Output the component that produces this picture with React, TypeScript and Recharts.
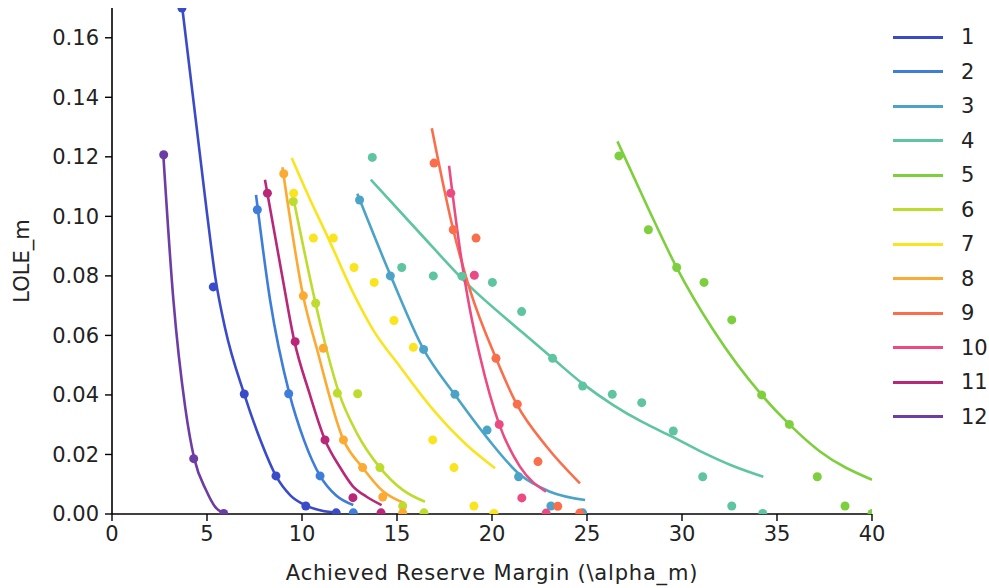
import React from "react";
import { ComposedChart, Line, Scatter, XAxis, YAxis, Label } from "recharts";

type Pt = [number, number];

const xTicks = [0, 5, 10, 15, 20, 25, 30, 35, 40];
const yTicks = [0, 0.02, 0.04, 0.06, 0.08, 0.1, 0.12, 0.14, 0.16];
const seriesNames = ["1", "2", "3", "4", "5", "6", "7", "8", "9", "10", "11", "12"];
const colors = [
  "#3a4bc9", "#3e7dd9", "#4ca3c8", "#5fc4a0", "#7dcf3e", "#bedc2d",
  "#fae41e", "#fcaa32", "#fa6e4b", "#eb4b82", "#b92878", "#6e3ca5"
];

// scatter points (reserve margin, LOLE)
const dots1: Pt[] = [[3.68, 0.17], [5.33, 0.0763], [6.96, 0.0403], [8.63, 0.0128], [10.2, 0.0027], [11.8, 0.0004]];
const dots2: Pt[] = [[7.65, 0.1022], [9.3, 0.0404], [10.95, 0.0128], [12.7, 0.0004]];
const dots3: Pt[] = [[13.03, 0.1055], [14.65, 0.08], [16.4, 0.0553], [18.05, 0.0402], [19.74, 0.0282], [21.4, 0.0125], [23.1, 0.0027], [24.77, 0.0004]];
const dots4: Pt[] = [[13.7, 0.1198], [15.25, 0.0828], [16.91, 0.08], [18.42, 0.0799], [20.02, 0.0778], [21.56, 0.068], [23.19, 0.0523], [24.77, 0.043], [26.33, 0.0402], [27.88, 0.0374], [29.54, 0.0279], [31.09, 0.0125], [32.62, 0.0027], [34.25, 0.0002]];
const dots5: Pt[] = [[26.68, 0.1203], [28.23, 0.0955], [29.72, 0.0828], [31.16, 0.0778], [32.62, 0.0652], [34.19, 0.04], [35.65, 0.0301], [37.12, 0.0125], [38.58, 0.0027], [40.0, 0.0002]];
const dots6: Pt[] = [[9.54, 0.105], [10.72, 0.0708], [11.86, 0.0406], [12.93, 0.0404], [14.1, 0.0156], [15.3, 0.0027], [16.42, 0.0004]];
const dots7: Pt[] = [[9.56, 0.1078], [10.6, 0.0927], [11.65, 0.0927], [12.74, 0.0828], [13.8, 0.0778], [14.84, 0.065], [15.86, 0.056], [16.88, 0.0249], [18.0, 0.0156], [19.05, 0.0027], [20.1, 0.0002]];
const dots8: Pt[] = [[9.04, 0.1143], [10.07, 0.0733], [11.12, 0.0557], [12.18, 0.0249], [13.19, 0.0156], [14.25, 0.0057], [15.3, 0.0004]];
const dots9: Pt[] = [[16.95, 0.1179], [17.96, 0.0955], [19.16, 0.0927], [20.21, 0.0523], [21.33, 0.0369], [22.42, 0.0176], [23.46, 0.0026], [24.62, 0.0003]];
const dots10: Pt[] = [[17.83, 0.1078], [19.07, 0.0802], [20.38, 0.0301], [21.57, 0.0054], [22.85, 0.0003]];
const dots11: Pt[] = [[8.18, 0.1078], [9.64, 0.0579], [11.21, 0.0249], [12.68, 0.0055], [14.16, 0.0004]];
const dots12: Pt[] = [[2.72, 0.1207], [4.3, 0.0186], [5.88, 0.0002]];

// fitted curves
const fit1: Pt[] = [[3.7, 0.17], [5.0, 0.101], [5.45, 0.079], [5.95, 0.0625], [6.96, 0.0403], [7.8, 0.025], [8.63, 0.0128], [9.4, 0.0062], [10.16, 0.003], [11.0, 0.0012], [11.95, 0.0004]];
const fit2: Pt[] = [[7.58, 0.1072], [8.32, 0.0719], [9.33, 0.0406], [10.1, 0.0249], [10.95, 0.0128], [11.8, 0.0062], [12.7, 0.003]];
const fit3: Pt[] = [[12.91, 0.1076], [14.67, 0.08], [16.4, 0.0553], [18.03, 0.0402], [19.77, 0.0254], [21.42, 0.0135], [23.05, 0.0075], [24.9, 0.0047]];
const fit4: Pt[] = [[13.62, 0.1123], [16.04, 0.0955], [18.67, 0.0775], [21.56, 0.0612], [23.19, 0.0523], [24.77, 0.0438], [26.38, 0.0366], [27.88, 0.031], [29.54, 0.0258], [31.09, 0.0207], [32.62, 0.0163], [34.28, 0.0125]];
const fit5: Pt[] = [[26.6, 0.1252], [28.2, 0.103], [29.72, 0.0828], [31.65, 0.0618], [34.19, 0.04], [35.65, 0.0301], [37.26, 0.021], [40.0, 0.0115]];
const fit6: Pt[] = [[9.5, 0.1075], [10.72, 0.0706], [11.3, 0.0551], [11.95, 0.0406], [12.9, 0.027], [14.1, 0.0156], [15.3, 0.0081], [16.47, 0.0041]];
const fit7: Pt[] = [[9.46, 0.1196], [10.4, 0.106], [11.38, 0.0927], [12.7, 0.0742], [13.75, 0.0618], [15.16, 0.0495], [16.91, 0.035], [18.67, 0.0232], [20.16, 0.0154]];
const fit8: Pt[] = [[8.97, 0.1165], [10.07, 0.073], [10.8, 0.0551], [12.18, 0.0249], [13.19, 0.0156], [14.25, 0.0077], [15.4, 0.0036]];
const fit9: Pt[] = [[16.83, 0.1296], [17.96, 0.0955], [18.84, 0.0753], [20.21, 0.0523], [21.3, 0.0369], [22.88, 0.0226], [24.63, 0.0103]];
const fit10: Pt[] = [[17.74, 0.117], [18.3, 0.0895], [18.84, 0.0686], [19.37, 0.0529], [20.38, 0.0301], [21.47, 0.0159], [22.84, 0.0075]];
const fit11: Pt[] = [[8.05, 0.1123], [8.93, 0.081], [9.6, 0.058], [10.37, 0.041], [11.21, 0.0249], [12.0, 0.0157], [12.67, 0.0094], [13.4, 0.0058], [14.19, 0.003]];
const fit12: Pt[] = [[2.7, 0.1207], [3.23, 0.072], [3.85, 0.036], [4.33, 0.0186], [4.96, 0.0079], [5.44, 0.0023], [5.9, 0.0002]];

const allDots = [dots1, dots2, dots3, dots4, dots5, dots6, dots7, dots8, dots9, dots10, dots11, dots12];
const allFits = [fit1, fit2, fit3, fit4, fit5, fit6, fit7, fit8, fit9, fit10, fit11, fit12];

const toRows = (pts: Pt[]) => pts.map(([x, y]) => ({ x, y }));

const series = seriesNames.map((name, i) => ({
  name,
  color: colors[i],
  dots: toRows(allDots[i]),
  fit: toRows(allFits[i])
}));

const FONT = "DejaVu Sans, sans-serif";
const W = 989;
const H = 588;

const ChartLegend = () => (
  <div style={{ position: "absolute", left: 0, top: 0, pointerEvents: "none" }}>
    {series.map((s, i) => (
      <div
        key={s.name}
        style={{
          position: "absolute",
          left: 893,
          top: 37 + i * 34.5 - 12,
          height: 24,
          display: "flex",
          alignItems: "center",
          whiteSpace: "nowrap"
        }}
      >
        <span style={{ display: "inline-block", width: 50, height: 3, background: s.color }} />
        <span style={{ marginLeft: 18, fontFamily: FONT, fontSize: 21, color: "#222" }}>{s.name}</span>
      </div>
    ))}
  </div>
);

const App: React.FC = () => {
  return (
    <div style={{ position: "absolute", left: 0, top: 0, width: W, height: H, background: "#fff" }}>
      <ComposedChart width={W} height={H} margin={{ top: 8, right: 117, left: 0, bottom: 0 }}>
        <XAxis
          type="number"
          dataKey="x"
          domain={[0, 40]}
          ticks={xTicks}
          allowDataOverflow
          height={74}
          stroke="#000"
          axisLine={{ stroke: "#000", strokeWidth: 1.6 }}
          tickLine={{ stroke: "#000", strokeWidth: 1.4 }}
          tickSize={7}
          tickMargin={5}
          tick={{ fontSize: 21, fill: "#222", fontFamily: FONT }}
        >
          <Label
            value="Achieved Reserve Margin (\alpha_m)"
            position="insideBottom"
            offset={8}
            style={{ fontSize: 21, fill: "#222", fontFamily: FONT, letterSpacing: 0.8 }}
          />
        </XAxis>
        <YAxis
          type="number"
          dataKey="y"
          domain={[0, 0.17]}
          ticks={yTicks}
          allowDataOverflow
          width={112}
          stroke="#000"
          axisLine={{ stroke: "#000", strokeWidth: 1.6 }}
          tickLine={{ stroke: "#000", strokeWidth: 1.4 }}
          tickSize={7}
          tickMargin={6}
          tickFormatter={(v: number) => v.toFixed(2)}
          tick={{ fontSize: 21, fill: "#222", fontFamily: FONT }}
        >
          <Label
            value="LOLE_m"
            angle={-90}
            position="insideLeft"
            offset={22}
            style={{ fontSize: 21, fill: "#222", fontFamily: FONT, textAnchor: "middle" }}
          />
        </YAxis>
        {series.map((s) => (
          <Line
            key={"fit" + s.name}
            data={s.fit}
            dataKey="y"
            type="monotone"
            stroke={s.color}
            strokeWidth={2.6}
            dot={false}
            activeDot={false}
            isAnimationActive={false}
            name={s.name}
          />
        ))}
        {series.map((s) => (
          <Scatter
            key={"dots" + s.name}
            data={s.dots}
            dataKey="y"
            fill={s.color}
            isAnimationActive={false}
            legendType="none"
            shape={(p: any) => <circle cx={p.cx} cy={p.cy} r={4.5} fill={s.color} />}
          />
        ))}
      </ComposedChart>
      <ChartLegend />
    </div>
  );
};

export default App;
